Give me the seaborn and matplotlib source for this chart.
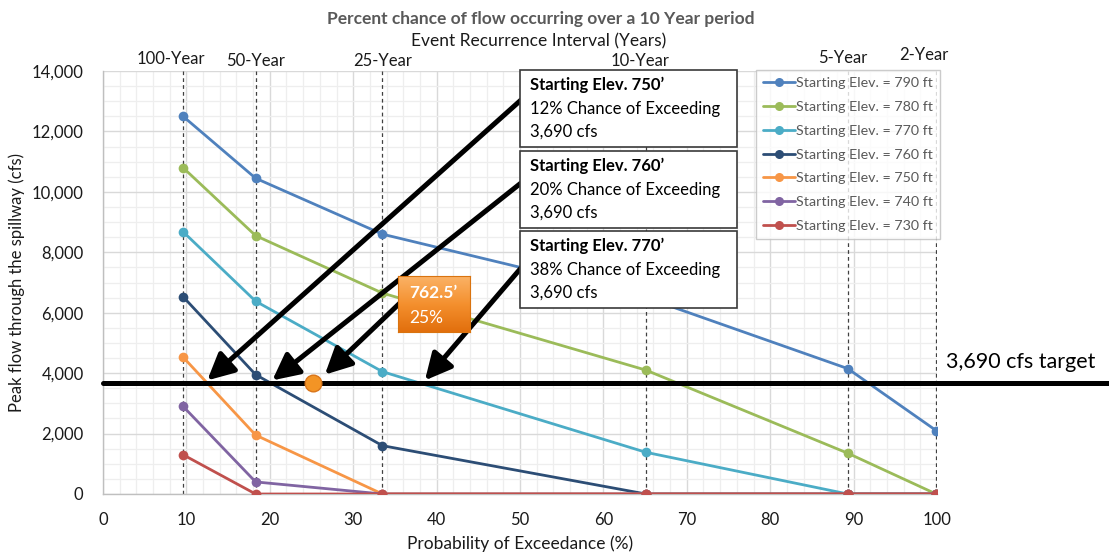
import numpy as np
import pandas as pd
import matplotlib
matplotlib.use("Agg")
import matplotlib.pyplot as plt
import seaborn as sns
from matplotlib.lines import Line2D
from matplotlib.patches import Rectangle
from matplotlib.ticker import MultipleLocator, FuncFormatter
from matplotlib.colors import LinearSegmentedColormap

# ---------------- data ----------------
prob = [9.6, 18.3, 33.5, 65.1, 89.3, 99.9]
recurrence_labels = ["100-Year", "50-Year", "25-Year", "10-Year", "5-Year", "2-Year"]
elev_790 = [12500, 10450, 8600, 6500, 4150, 2100]
elev_780 = [10800, 8550, 6650, 4100, 1350, 0]
elev_770 = [8680, 6380, 4050, 1380, 0, 0]
elev_760 = [6530, 3950, 1600, 0, 0, 0]
elev_750 = [4530, 1950, 0, 0, 0, 0]
elev_740 = [2900, 400, 0, 0, 0, 0]
elev_730 = [1300, 0, 0, 0, 0, 0]
series_names = ["Starting Elev. = 790 ft", "Starting Elev. = 780 ft", "Starting Elev. = 770 ft",
                "Starting Elev. = 760 ft", "Starting Elev. = 750 ft", "Starting Elev. = 740 ft",
                "Starting Elev. = 730 ft"]
series_vals = [elev_790, elev_780, elev_770, elev_760, elev_750, elev_740, elev_730]
colors = ["#4F81BD", "#9BBB59", "#4BACC6", "#2C4D75", "#F79646", "#8064A2", "#C0504D"]

target_flow = 3690
interp_prob = 25.2
arrow_tips_x = [12.5, 20.3, 26.6, 38.6]
arrow_tips_y = [3760, 3760, 3950, 3760]
box_titles = ["Starting Elev. 750\u2019", "Starting Elev. 760\u2019", "Starting Elev. 770\u2019"]
box_lines = [["12% Chance of Exceeding", "3,690 cfs"],
             ["20% Chance of Exceeding", "3,690 cfs"],
             ["38% Chance of Exceeding", "3,690 cfs"]]

rows = []
for name, vals in zip(series_names, series_vals):
    for p, v in zip(prob, vals):
        rows.append({"prob": p, "flow": v, "series": name})
df = pd.DataFrame(rows)

# ---------------- style ----------------
sns.set_theme(style="white")
plt.rcParams["font.family"] = ["Lato", "DejaVu Sans"]

W, H = 1109, 554
fig = plt.figure(figsize=(W / 100, H / 100), dpi=100)

def F(x, y):
    return (x / W, 1 - y / H)

ax = fig.add_axes([103 / W, 1 - 494 / H, (937 - 103) / W, (494 - 71) / H])

ax.set_xlim(0, 100)
ax.set_ylim(0, 14000)
ax.xaxis.set_major_locator(MultipleLocator(10))
ax.xaxis.set_minor_locator(MultipleLocator(2))
ax.yaxis.set_major_locator(MultipleLocator(2000))
ax.yaxis.set_minor_locator(MultipleLocator(500))
ax.grid(which="major", color="#D9D9D9", lw=1.0, zorder=0)
ax.grid(which="minor", color="#EEEEEE", lw=0.9, zorder=0)
ax.set_axisbelow(True)
ax.yaxis.set_major_formatter(FuncFormatter(lambda v, _: f"{int(v):,}"))

for s in ["top", "right"]:
    ax.spines[s].set_visible(False)
for s in ["left", "bottom"]:
    ax.spines[s].set_color("#BFBFBF")
    ax.spines[s].set_linewidth(1.0)
ax.tick_params(axis="both", which="major", labelsize=12, colors="#BFBFBF", labelcolor="#1a1a1a",
               length=4, width=1, direction="out")
ax.tick_params(axis="both", which="minor", colors="#BFBFBF", length=3, width=0.8, direction="out")
ax.tick_params(axis="x", pad=9)
ax.tick_params(axis="y", pad=10)

# recurrence dashed lines
for p in prob:
    ax.axvline(p, color="#404040", lw=0.9, ls=(0, (3, 2.5)), zorder=1)

# series
sns.lineplot(data=df, x="prob", y="flow", hue="series", hue_order=series_names,
             palette=colors, marker="o", markersize=7, markeredgewidth=0,
             linewidth=2, sort=False, legend=False, ax=ax, zorder=3)

# target line
ax.plot([0, 121], [target_flow, target_flow], color="black", lw=3.6, clip_on=False, zorder=5)
ax.plot([interp_prob], [target_flow], marker="o", markersize=12, color="#F39425",
        markeredgecolor="#D9751A", markeredgewidth=1, zorder=7)

ax.set_xlabel("Probability of Exceedance (%)", fontsize=12.5, color="#1a1a1a", labelpad=5)
ax.set_ylabel("Peak flow through the spillway (cfs)", fontsize=12, color="#1a1a1a", labelpad=5)

# legend
handles = [Line2D([0], [0], color=c, lw=2, marker="o", markersize=6.5, markeredgewidth=0) for c in colors]
leg = ax.legend(handles, series_names, loc="upper right", bbox_to_anchor=(1.004, 1.002),
                fontsize=10.3, frameon=True, fancybox=False, edgecolor="#BFBFBF",
                handlelength=2.2, handletextpad=0.1, labelspacing=0.82, borderpad=0.5,
                borderaxespad=0)
leg.get_frame().set_linewidth(1.0)
for t in leg.get_texts():
    t.set_color("#595959")
leg.set_zorder(8)

# arrows
tails_px = [(521, 100), (521, 183), (401, 302), (521, 268)]
for (tx, ty), hx, hy in zip(tails_px, arrow_tips_x, arrow_tips_y):
    ax.annotate("", xy=(hx, hy), xycoords="data", xytext=F(tx, ty), textcoords="figure fraction",
                arrowprops=dict(arrowstyle="-|>,head_length=0.8,head_width=0.4", lw=3.6,
                                color="black", mutation_scale=20, shrinkA=0, shrinkB=0),
                zorder=6, annotation_clip=False)

# text boxes
box_tops = [70, 151, 231]
for top, ttl, lines in zip(box_tops, box_titles, box_lines):
    h = 77
    fig.add_artist(Rectangle(F(520, top + h), 217 / W, h / H, transform=fig.transFigure,
                             facecolor="white", edgecolor="#3a3a3a", lw=1.2, zorder=4))
    fig.text(*F(530, top + 15), ttl, fontsize=12, fontweight="bold", color="black",
             ha="left", va="center", zorder=5)
    fig.text(*F(530, top + 39), lines[0], fontsize=12, color="black", ha="left", va="center", zorder=5)
    fig.text(*F(530, top + 62), lines[1], fontsize=12, color="black", ha="left", va="center", zorder=5)

# orange box with gradient
oax = fig.add_axes([398 / W, 1 - 332 / H, 72 / W, 56 / H])
grad = np.linspace(0, 1, 64).reshape(-1, 1)
cmap = LinearSegmentedColormap.from_list("og", ["#FBB266", "#F4902E", "#E26F0D"])
oax.imshow(grad, aspect="auto", cmap=cmap, extent=(0, 1, 0, 1), origin="upper")
oax.set_xticks([]); oax.set_yticks([])
for s in oax.spines.values():
    s.set_color("#D9730F")
    s.set_linewidth(0.8)
fig.text(*F(409, 293), "762.5\u2019", fontsize=12.5, fontweight="bold", color="white", ha="left", va="center", zorder=6)
fig.text(*F(409, 318), "25%", fontsize=12.5, color="white", ha="left", va="center", zorder=6)

# titles and recurrence labels
fig.text(*F(541, 19), "Percent chance of flow occurring over a 10 Year period", fontsize=12.5,
         fontweight="bold", color="#595959", ha="center", va="center")
fig.text(*F(539, 41), "Event Recurrence Interval (Years)", fontsize=12.5, color="#1a1a1a",
         ha="center", va="center")
label_px = [(171, 59), (256, 61), (383, 61), (640, 61), (843, 58), (924, 55)]
for (lx, ly), lab in zip(label_px, recurrence_labels):
    fig.text(*F(lx, ly), lab, fontsize=12, color="#1a1a1a", ha="center", va="center")

fig.text(*F(946, 362), "3,690 cfs target", fontsize=15.5, color="black", ha="left", va="center")

fig.savefig("out.png", dpi=100)
